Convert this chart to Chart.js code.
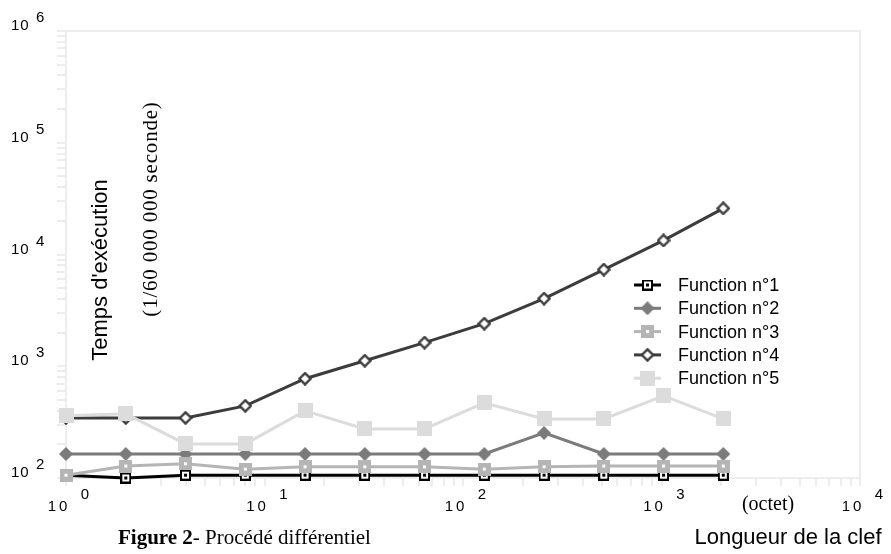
<!DOCTYPE html>
<html><head><meta charset="utf-8">
<script src="https://cdn.jsdelivr.net/npm/chart.js@4.4.1/dist/chart.umd.min.js"></script>
<style>
html,body{margin:0;padding:0;background:#fff;}
#wrap{position:relative;width:891px;height:554px;overflow:hidden;background:#fff;}
#c{position:absolute;left:0;top:0;}
.t{position:absolute;white-space:nowrap;color:#000;line-height:1;}
.sans{font-family:"Liberation Sans",Arial,sans-serif;}
.serif{font-family:"Liberation Serif","Times New Roman",serif;}
</style></head><body>
<div id="wrap">
<canvas id="c" width="891" height="554"></canvas>
<div class="t sans" id="ytitle" style="left:100px;top:270px;font-size:22px;transform:translate(-50%,-50%) rotate(-90deg);">Temps d'exécution</div>
<div class="t serif" id="yunit" style="left:150px;top:209px;font-size:21px;letter-spacing:0.8px;transform:translate(-50%,-50%) rotate(-90deg);">(1/60 000 000 seconde)</div>
<div class="t serif" id="xunit" style="left:768px;top:503px;font-size:20px;transform:translate(-50%,-50%);">(octet)</div>
<div class="t sans" id="xtitle" style="left:788px;top:537px;font-size:22px;transform:translate(-50%,-50%);">Longueur de la clef</div>
<div class="t serif" id="caption" style="left:118px;top:537px;font-size:21px;transform:translate(0,-50%);"><b>Figure 2</b>- Procédé différentiel</div>
</div>
<script>
// ---- data ----
const keySizes = [1, 2, 4, 8, 16, 32, 64, 128, 256, 512, 1024, 2048];
const fn1 = [106, 100, 106, 106, 106, 106, 106, 106, 106, 106, 106, 106];
const fn2 = [164, 164, 164, 164, 164, 164, 164, 164, 253, 164, 164, 164];
const fn3 = [106, 128, 134, 120, 126, 126, 126, 120, 126, 128, 128, 128];
const fn4 = [345, 345, 345, 442, 773, 1120, 1625, 2405, 4030, 7330, 13360, 25870];
const fn5 = [360, 375, 202, 202, 399, 275, 275, 471, 338, 338, 544, 338];
const seriesNames = ['Function n°1', 'Function n°2', 'Function n°3', 'Function n°4', 'Function n°5'];
const xDecadeValues = [1, 10, 100, 1000, 10000];
const xDecadeExponents = ['0', '1', '2', '3', '4'];
const yDecadeValues = [100, 1000, 10000, 100000, 1000000];
const yDecadeExponents = ['2', '3', '4', '5', '6'];

// ---- markers ----
function mk(size, draw){ const c=document.createElement('canvas'); c.width=size; c.height=size; draw(c.getContext('2d'), size); return c; }
const m1 = mk(11,(g)=>{ g.fillStyle='#000'; g.fillRect(0,0,11,11); g.fillStyle='#fff'; g.fillRect(2,2,7,7); g.fillStyle='#000'; g.fillRect(4,4,3,3); });
const m2 = mk(14,(g)=>{ g.fillStyle='#7b7b7b'; g.beginPath(); g.moveTo(7,0); g.lineTo(14,7); g.lineTo(7,14); g.lineTo(0,7); g.closePath(); g.fill(); });
const m3 = mk(13,(g)=>{ g.fillStyle='#b5b5b5'; g.fillRect(0,0,13,13); g.fillStyle='#fff'; g.fillRect(5,5,3,3); });
const m4 = mk(14,(g)=>{ g.fillStyle='#fff'; g.strokeStyle='#3c3c3c'; g.lineWidth=2.4; g.beginPath(); g.moveTo(7,1.4); g.lineTo(12.6,7); g.lineTo(7,12.6); g.lineTo(1.4,7); g.closePath(); g.fill(); g.stroke(); });
const m5 = mk(15,(g)=>{ g.fillStyle='#dcdcdc'; g.fillRect(0,0,15,15); });

const seriesColors = ['#000000', '#7b7b7b', '#b5b5b5', '#3c3c3c', '#dcdcdc'];
const markers = [m1, m2, m3, m4, m5];
const seriesData = [fn1, fn2, fn3, fn4, fn5];

function decadeTicks(minExp, maxExp){
  const t=[];
  for(let e=minExp;e<maxExp;e++){ for(let s=1;s<10;s++){ t.push({value:s*Math.pow(10,e)}); } }
  t.push({value:Math.pow(10,maxExp)});
  return t;
}

const FAINT = '#ededed';

const decor = {
  id:'decor',
  beforeDatasetsDraw(chart){
    const {ctx, chartArea:a} = chart;
    ctx.save();
    ctx.strokeStyle=FAINT; ctx.lineWidth=2;
    ctx.beginPath(); ctx.moveTo(a.left, a.top); ctx.lineTo(a.right, a.top); ctx.lineTo(a.right, a.bottom); ctx.stroke();
    ctx.restore();
  },
  afterDraw(chart){
    const {ctx, scales:{x,y}} = chart;
    ctx.save();
    ctx.fillStyle='#000';
    ctx.textBaseline='middle';
    // y decade labels
    ctx.font='15px "Liberation Sans", Arial, sans-serif';
    ctx.textAlign='left';
    yDecadeValues.forEach((v,i)=>{
      const py=y.getPixelForValue(v);
      ctx.letterSpacing='1px';
      ctx.fillText('10', 11, py-5);
      ctx.letterSpacing='0px';
      ctx.fillText(yDecadeExponents[i], 36, py-13);
    });
    // x decade labels
    ctx.textAlign='center';
    xDecadeValues.forEach((v,i)=>{
      const px=x.getPixelForValue(v);
      ctx.letterSpacing='3px';
      ctx.fillText('10', px-7, 507);
      ctx.letterSpacing='0px';
      ctx.fillText(xDecadeExponents[i], px+19, 495);
    });
    // legend
    ctx.textAlign='left';
    ctx.font='18px "Liberation Sans", Arial, sans-serif';
    seriesNames.forEach((name,i)=>{
      const ly=285+i*23.3;
      ctx.strokeStyle=seriesColors[i]; ctx.lineWidth=3;
      ctx.beginPath(); ctx.moveTo(634,ly); ctx.lineTo(661,ly); ctx.stroke();
      const m=markers[i];
      ctx.drawImage(m, 647.5-m.width/2, ly-m.height/2);
      ctx.fillStyle='#000';
      ctx.fillText(name, 678, ly+1);
    });
    ctx.restore();
  }
};

const datasets = seriesData.map((d,i)=>({
  label: seriesNames[i],
  data: keySizes.map((k,j)=>({x:k, y:d[j]})),
  borderColor: seriesColors[i],
  backgroundColor: seriesColors[i],
  borderWidth: 3,
  pointStyle: markers[i],
  pointRadius: 6,
  tension: 0,
  clip: false,
  order: 5-i
}));

new Chart(document.getElementById('c'), {
  type:'line',
  data:{datasets},
  options:{
    responsive:false,
    animation:false,
    devicePixelRatio:1,
    layout:{autoPadding:false, padding:{top:31, right:31, left:0, bottom:0}},
    plugins:{legend:{display:false}, tooltip:{enabled:false}},
    scales:{
      x:{
        type:'logarithmic', min:1, max:10000,
        afterBuildTicks(s){ s.ticks=decadeTicks(0,4); },
        afterFit(s){ s.height=76; },
        ticks:{display:false},
        grid:{display:true, drawOnChartArea:false, drawTicks:true, tickLength:8, color:FAINT, lineWidth:2},
        border:{display:true, color:FAINT, width:2}
      },
      y:{
        type:'logarithmic', min:100, max:1000000,
        afterBuildTicks(s){ s.ticks=decadeTicks(2,6); },
        afterFit(s){ s.width=66; },
        ticks:{display:false},
        grid:{display:true, drawOnChartArea:false, drawTicks:true, tickLength:9, color:FAINT, lineWidth:2},
        border:{display:true, color:FAINT, width:2}
      }
    }
  },
  plugins:[decor]
});
</script>
</body></html>
